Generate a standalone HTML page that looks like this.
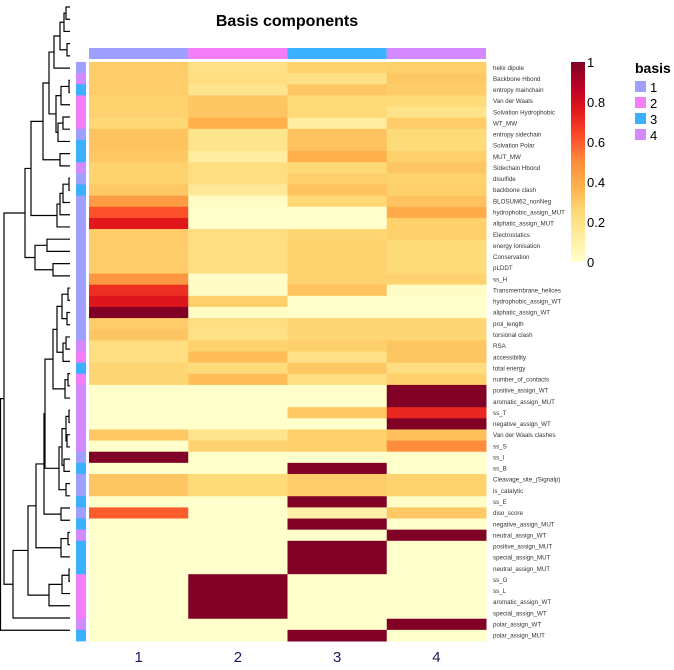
<!DOCTYPE html>
<html><head><meta charset="utf-8">
<style>
html,body{margin:0;padding:0;background:#fff;}
svg text{font-family:"Liberation Sans",sans-serif;}
</style></head>
<body>
<svg id="chart" width="674" height="665" viewBox="0 0 674 665" xmlns="http://www.w3.org/2000/svg">
<text x="287" y="26" text-anchor="middle" font-size="16" font-weight="bold">Basis components</text>
<g id="dendro" stroke="#000" stroke-width="1.2" fill="none"></g>
<g id="colbar"></g>
<g id="rowann"></g>
<g id="cells"></g>
<g id="rowlabels"></g>
<g id="collabels"></g>
<defs><linearGradient id="cbgrad" x1="0" y1="1" x2="0" y2="0">
<stop offset="0" stop-color="#FFFFCC"/><stop offset="0.125" stop-color="#FFEDA0"/><stop offset="0.25" stop-color="#FED976"/><stop offset="0.375" stop-color="#FEB24C"/><stop offset="0.5" stop-color="#FD8D3C"/><stop offset="0.625" stop-color="#FC4E2A"/><stop offset="0.75" stop-color="#E31A1C"/><stop offset="0.875" stop-color="#BD0026"/><stop offset="1" stop-color="#800026"/>
</linearGradient></defs>
<rect x="571" y="62" width="14" height="200" fill="url(#cbgrad)"/>
<g id="cbticks"></g>
<g>
<text x="635" y="73" font-size="14" font-weight="bold">basis</text>
<rect x="635" y="81" width="11" height="11" fill="#9F9FFF"/>
<text x="650" y="92" font-size="13">1</text>
<rect x="635" y="97" width="11" height="11" fill="#F47EFA"/>
<text x="650" y="108" font-size="13">2</text>
<rect x="635" y="113" width="11" height="11" fill="#3AB0FF"/>
<text x="650" y="124" font-size="13">3</text>
<rect x="635" y="129" width="11" height="11" fill="#D38AFF"/>
<text x="650" y="140" font-size="13">4</text>
</g>
</svg>
<script>
const rowNames = ["helix dipole","Backbone Hbond","entropy mainchain","Van der Waals","Solvation Hydrophobic","WT_MW","entropy sidechain","Solvation Polar","MUT_MW","Sidechain Hbond","disulfide","backbone clash","BLOSUM62_nonNeg","hydrophobic_assign_MUT","aliphatic_assign_MUT","Electrostatics","energy Ionisation","Conservation","pLDDT","ss_H","Transmembrane_helices","hydrophobic_assign_WT","aliphatic_assign_WT","prol_length","torsional clash","RSA","accessibility","total energy","number_of_contacts","positive_assign_WT","aromatic_assign_MUT","ss_T","negative_assign_WT","Van der Waals clashes","ss_S","ss_I","ss_B","Cleavage_site_(Signalp)","is_catalytic","ss_E","diso_score","negative_assign_MUT","neutral_assign_WT","positive_assign_MUT","special_assign_MUT","neutral_assign_MUT","ss_G","ss_L","aromatic_assign_WT","special_assign_WT","polar_assign_WT","polar_assign_MUT"];
const rowBasis = [1,4,3,2,2,2,1,3,3,4,1,3,1,1,1,1,1,1,1,1,1,1,1,1,1,4,2,3,2,4,4,4,4,4,4,1,3,1,1,3,1,3,4,3,3,3,2,2,2,2,4,3];
const colNames = ["1","2","3","4"];
const basis1 = [.29,.29,.29,.27,.27,.25,.32,.32,.3,.27,.27,.3,.45,.62,.76,.29,.29,.29,.29,.47,.7,.77,1,.29,.31,.22,.22,.26,.26,0,0,0,0,.3,0,1,0,.31,.31,0,.6,0,0,0,0,0,0,0,0,0,0,0];
const basis2 = [.2,.22,.18,.31,.31,.38,.18,.18,.12,.22,.22,.15,.02,0,0,.22,.22,.22,.22,.02,.02,.28,.02,.22,.2,.27,.34,.23,.34,0,0,0,0,.18,.27,0,0,.24,.24,0,0,0,0,0,0,0,1,1,1,1,0,0];
const basis3 = [.27,.2,.31,.24,.25,.12,.32,.32,.38,.25,.28,.32,.25,0,0,.26,.27,.27,.27,.27,.32,0,0,.26,.26,.28,.2,.3,.22,0,0,.3,0,.28,.28,0,1,.29,.29,1,.1,1,0,1,1,1,0,0,0,0,0,1];
const basis4 = [.28,.3,.29,.24,.19,.29,.24,.24,.28,.31,.27,.28,.32,.4,.28,.28,.24,.24,.24,.27,.02,0,0,.26,.26,.31,.31,.22,.28,1,1,.72,1,.33,.5,0,0,.27,.27,.02,.3,0,1,0,0,0,0,0,0,0,1,0];
const cbTicks = [0,0.2,0.4,0.6,0.8,1];

const NS="http://www.w3.org/2000/svg";
const basisColors={1:"#9F9FFF",2:"#F47EFA",3:"#3AB0FF",4:"#D38AFF"};
const stops=["#FFFFCC","#FFEDA0","#FED976","#FEB24C","#FD8D3C","#FC4E2A","#E31A1C","#BD0026","#800026"];
function hex(c){return [1,3,5].map(i=>parseInt(c.substr(i,2),16));}
function colorOf(v){v=Math.max(0,Math.min(1,v));const p=v*8,i=Math.min(7,Math.floor(p)),f=p-i;const a=hex(stops[i]),b=hex(stops[i+1]);return "rgb("+a.map((x,k)=>Math.round(x+(b[k]-x)*f)).join(",")+")";}
const X0=89,X1=486,Y0=62,Y1=641;
const nR=rowNames.length,nC=colNames.length;
const cw=(X1-X0)/nC,rh=(Y1-Y0)/nR;
const xPos=c=>X0+c*cw, yPos=r=>Y0+r*rh;
const series=[basis1,basis2,basis3,basis4];
function mk(tag,attrs,parent){const e=document.createElementNS(NS,tag);for(const k in attrs)e.setAttribute(k,attrs[k]);parent.appendChild(e);return e;}
const cells=document.getElementById("cells");
series.forEach((s,c)=>{s.forEach((v,r)=>{
 const e=mk("rect",{x:xPos(c),y:yPos(r),width:cw+0.5,height:rh+0.5,fill:colorOf(v)},cells);
 
 
});});
const colbar=document.getElementById("colbar");
colNames.forEach((n,c)=>{
 const e=mk("rect",{x:xPos(c),y:48,width:cw,height:11,fill:basisColors[c+1]},colbar);
 
 
 const t=mk("text",{x:xPos(c)+cw/2,y:662,"text-anchor":"middle","font-size":15,fill:"#1a1a5e"},document.getElementById("collabels"));
 t.textContent=n;
 
 
});
const rowann=document.getElementById("rowann"),rl=document.getElementById("rowlabels");
rowNames.forEach((n,r)=>{
 const e=mk("rect",{x:76,y:yPos(r),width:10,height:rh+0.4,fill:basisColors[rowBasis[r]]},rowann);
 
 
 const t=mk("text",{x:493,y:yPos(r)+rh/2+2.2,"font-size":6.2,fill:"#333"},rl);
 t.textContent=n;
 
 
});
const cbt=document.getElementById("cbticks");
cbTicks.forEach(v=>{
 const t=mk("text",{x:587,y:262-v*200+5,"font-size":13},cbt);
 t.textContent=String(v);
 
 
});
// dendrogram
const L=i=>({leaf:i});
const N=(a,b,h)=>({c:[a,b],h:h});
const C1=N(N(N(N(L(0),L(1),66),L(2),64),N(L(3),L(4),67),60),L(5),54);
const C2=N(N(N(L(6),L(7),69),L(8),61),N(N(L(9),L(10),63),L(11),58),56);
const C123=N(N(C1,C2,49),N(L(12),L(13),60),43);
const C4=N(N(N(N(L(14),L(15),69),L(16),63),L(17),60),L(18),57);
const C5=N(N(L(19),L(20),47),N(L(21),L(22),53),35);
const CL=N(N(C123,C4,31),C5,25);
const Mtop=N(N(N(N(L(23),L(24),68),N(L(25),L(26),67),62),N(N(L(27),L(28),66),L(29),63),57),N(N(L(30),L(31),68),L(32),65),53);
const Mbot=N(N(N(N(L(33),L(34),69),N(L(35),L(36),67),66),N(L(37),L(38),64),62),N(L(39),L(40),66),59);
const M=N(N(Mtop,Mbot,45),N(L(41),L(42),61),44);
const C6=N(M,N(N(L(43),L(44),68),L(45),61),36);
const C9=N(N(N(L(46),L(47),69),L(48),62),L(49),49);
const CR=N(N(C6,C9,28),L(50),13);
const root=N(N(CL,CR,4),L(51),0.5);
const dg=document.getElementById("dendro");
const leafY=i=>7+i*12.22;
function draw(n){
 if(n.leaf!==undefined)return {x:70,y:leafY(n.leaf)};
 const a=draw(n.c[0]),b=draw(n.c[1]);
 const p=mk("path",{d:`M${a.x},${a.y}H${n.h}V${b.y}H${b.x}`},dg);
 
 
 return {x:n.h,y:(a.y+b.y)/2};
}
draw(root);
</script>
</body></html>
